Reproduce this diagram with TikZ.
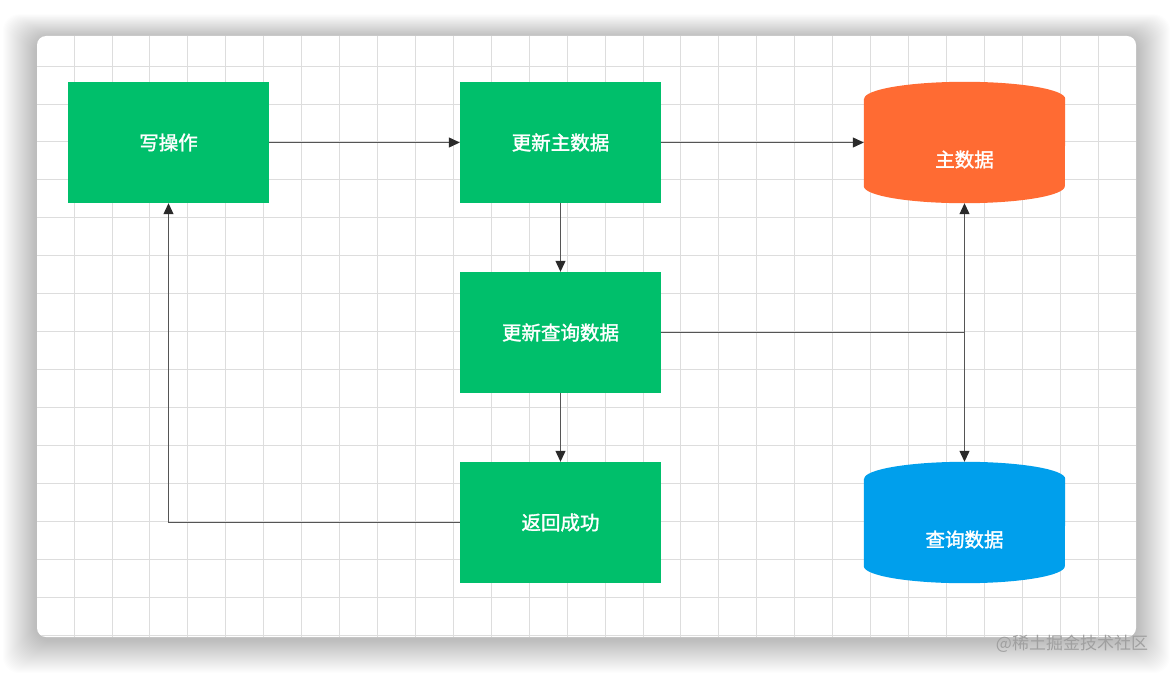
\documentclass[tikz,border=0pt]{standalone}
\usepackage{fontspec}
\newfontfamily\cjk{Noto Sans CJK SC}
\newfontfamily\cjkmid[FakeBold=1.6]{Noto Sans CJK SC}
\usepackage{tikz}
\usetikzlibrary{arrows.meta,calc}
\definecolor{FlowGreen}{HTML}{00BF6B}
\definecolor{FlowOrange}{HTML}{FF6B33}
\definecolor{FlowBlue}{HTML}{009FEC}
\definecolor{FlowLine}{HTML}{555555}
\definecolor{FlowTip}{HTML}{2A2A2A}
\definecolor{FlowGrid}{HTML}{DDDDDD}
\definecolor{FlowMark}{HTML}{A0A0A0}

\begin{document}
\begin{tikzpicture}[x=1pt,y=-1pt,
  box/.style={fill=FlowGreen,minimum width=201pt,minimum height=121pt,inner sep=0pt,text=white,font=\cjkmid\fontsize{19.5}{21}\selectfont},
  dbbody/.style={minimum width=201pt,minimum height=121pt,inner sep=0pt},
  dbtext/.style={text=white,font=\cjkmid\fontsize{19.5}{21}\selectfont},
  link/.style={FlowLine,line width=1.1pt,-{Triangle[length=11pt,width=10pt,color=FlowTip]}}]
\useasboundingbox (0,0) rectangle (1172,674);
% card with soft shadow
\foreach \s in {1,...,34} \fill[black,opacity=.008,rounded corners=16pt] ({37-\s},{38-0.7*\s}) rectangle ({1136+\s},{639+\s});
\fill[white,rounded corners=9pt] (37,36) rectangle (1136,637);
\begin{scope}
\clip[rounded corners=9pt] (37,36) rectangle (1136,637);
\foreach \i in {0,...,28} \draw[FlowGrid,line width=.8pt] ({74+37.93*\i},36) -- ++(0,601);
\foreach \j in {0,...,15} \draw[FlowGrid,line width=.8pt] (37,{66+37.93*\j}) -- (1136,{66+37.93*\j});
\end{scope}
% process boxes
\node[box] (write) at (168.5,142.5) {写操作};
\node[box] (upd1) at (560.5,142.5) {更新主数据};
\node[box] (upd2) at (560.5,332.5) {更新查询数据};
\node[box] (ret) at (560.5,522.5) {返回成功};
% databases
\node[dbbody] (mdb) at (964.5,142.5) {};
\node[dbbody] (qdb) at (964.5,522.5) {};
\fill[FlowOrange] ($(mdb.north west)+(0,17)$) -- ($(mdb.south west)+(0,-17)$) arc[start angle=180,end angle=0,x radius=100.5,y radius=17] -- ($(mdb.north east)+(0,17)$) arc[start angle=0,end angle=-180,x radius=100.5,y radius=17] -- cycle;
\fill[FlowBlue] ($(qdb.north west)+(0,17)$) -- ($(qdb.south west)+(0,-17)$) arc[start angle=180,end angle=0,x radius=100.5,y radius=17] -- ($(qdb.north east)+(0,17)$) arc[start angle=0,end angle=-180,x radius=100.5,y radius=17] -- cycle;
\node[dbtext] (mdbtext) at ($(mdb.center)+(0,17)$) {主数据};
\node[dbtext] (qdbtext) at ($(qdb.center)+(0,17)$) {查询数据};
% connectors
\draw[link] (write) -- (upd1);
\draw[link] (upd1) -- (mdb);
\draw[link] (upd1) -- (upd2);
\draw[link] (upd2) -- (ret);
\coordinate (split) at (mdb.south |- upd2.east);
\draw[FlowLine,line width=1.1pt] (upd2) -- (split);
\draw[link] (split) -- (mdb.south);
\draw[link] (split) -- (qdb.north);
\draw[link] (ret) -| (write);
\node[text=FlowMark,font=\cjk\fontsize{17}{18}\selectfont] (mark) at (1072,644) {@稀土掘金技术社区};
\end{tikzpicture}
\end{document}
